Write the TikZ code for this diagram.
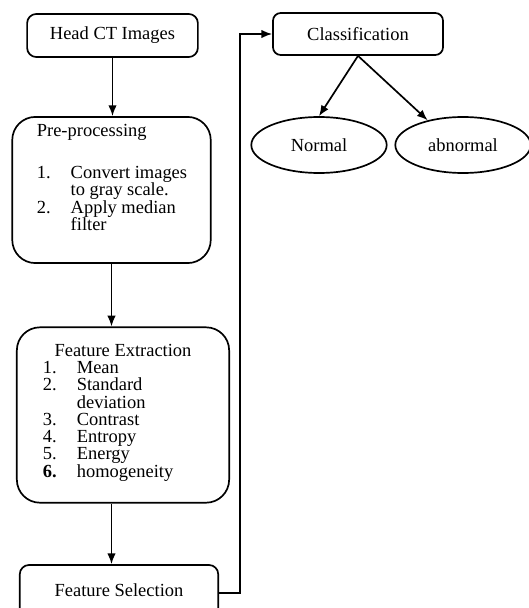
\documentclass[tikz,border=0pt]{standalone}
\usepackage{fontspec}
\setmainfont{Liberation Serif}
\usetikzlibrary{shapes.geometric,arrows.meta}
\newcommand{\itemno}[1]{\makebox[22pt][l]{#1}}
\begin{document}
\begin{tikzpicture}[x=0.65pt, y=-0.65pt, font=\fontsize{12}{11.2}\selectfont,
  stage/.style={draw, line width=1.1pt, rounded corners=#1, inner sep=0pt},
  stage/.default=6pt,
  result/.style={draw, ellipse, line width=1.1pt, minimum width=88pt, minimum height=36.4pt, inner sep=0pt},
  flow/.style={-{Latex[length=7pt,width=5.5pt]}, line width=1.1pt}]
\clip (0,0) rectangle (529,608);

% Draw the processing stages
\node[stage, minimum width=111pt, minimum height=28pt] (head) at (112.5,35.5) {Head CT Images};
\node[stage=15pt] (pre) at (111.5,190) {\parbox[c][95pt][t]{129pt}{\leftskip=16pt
  \vspace*{5pt}Pre-processing\par\vspace{16pt}
  \itemno{1.}Convert images\par
  \itemno{}to gray scale.\par
  \itemno{2.}Apply median\par
  \itemno{}filter}};
\node[stage=15pt] (fe) at (123,415) {\parbox[c][114pt][t]{138pt}{\vspace*{11pt}
  \centering Feature Extraction\par
  \leftskip=17pt \rightskip=0pt plus 1fil
  \itemno{1.}Mean\par
  \itemno{2.}Standard\par
  \itemno{}deviation\par
  \itemno{3.}Contrast\par
  \itemno{4.}Entropy\par
  \itemno{5.}Energy\par
  \itemno{\textbf{6.}}homogeneity}};
\node[stage, minimum width=129pt, minimum height=36.4pt, text depth=4pt] (fs) at (119,593) {Feature Selection};

% Draw the classifier and its outcomes
\node[stage=5pt, minimum width=110.5pt, minimum height=27.3pt] (cls) at (358,34) {Classification};
\node[result] (normal) at (319,145) {Normal};
\node[result] (abnormal) at (463,145) {abnormal};

% Draw connectors
\draw[flow] (head.south) -- (head.south |- pre.north);
\draw[flow] (pre.south) -- (pre.south |- fe.north);
\draw[flow] (pre.south |- fe.south) -- (pre.south |- fs.north);
\draw[flow] (fs.east) -- ++(21,0) |- (cls.west);
\draw[flow] (cls.south) -- (normal.north);
\draw[flow] (cls.south) -- (abnormal.145);

\end{tikzpicture}
\end{document}
